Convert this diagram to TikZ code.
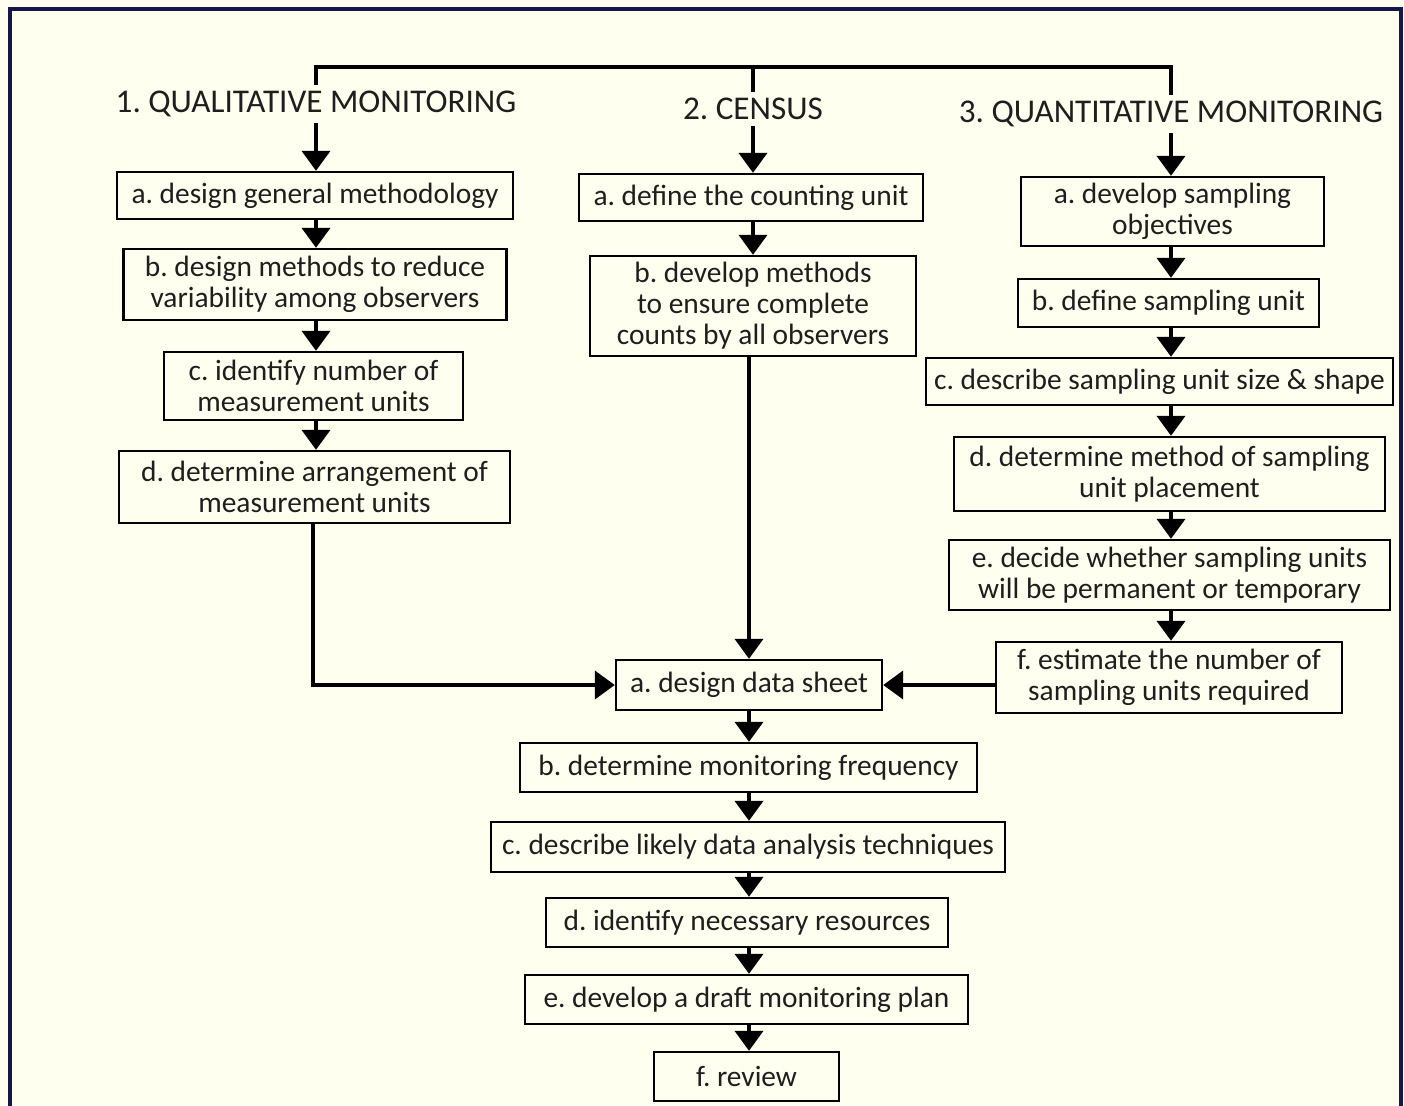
\documentclass[tikz,border=0pt]{standalone}
\usepackage{fontspec}
\setmainfont{Carlito}
\usetikzlibrary{arrows.meta}
\definecolor{paper}{HTML}{FFFFF0}
\definecolor{frameblue}{HTML}{16164A}
\definecolor{ink}{HTML}{1E1E1E}
\frenchspacing
\begin{document}
\begin{tikzpicture}[x=0.5pt,y=-0.5pt,
  box/.style={draw=black, line width=1.2pt, align=center, inner sep=0pt,
    text=ink, font=\fontsize{14.7}{15.5}\selectfont},
  head/.style={align=center, inner sep=3pt, text=ink,
    font=\fontsize{16.6}{17}\selectfont},
  arr/.style={line width=2pt, -{Triangle[width=14pt,length=10pt]}},
  link/.style={line width=2pt}]
% page and frame
\fill[paper] (0,0) rectangle (1404,1105);
\useasboundingbox (0,0) rectangle (1404,1105);
\begin{scope}
\clip (0,0) rectangle (1404,1105);
\draw[frameblue, line width=2pt] (9.5,9) rectangle (1400.5,1130);
\end{scope}

% column headings
\node[head] (t1) at (316,104) {1. QUALITATIVE MONITORING};
\node[head] (t2) at (753,109) {2. CENSUS};
\node[head] (t3) at (1171,114) {3. QUANTITATIVE MONITORING};
\coordinate (bar) at (0,67);
\draw[link] (t1.north) -- (t1.north |- bar) -- (t3.north |- bar) -- (t3.north);
\draw[link] (t2.north |- bar) -- (t2.north);

% 1. qualitative monitoring
\node[box, minimum width=198pt, minimum height=23.5pt] (q1) at (315,195.5) {a. design general methodology};
\node[box, minimum width=191.5pt, minimum height=35.5pt] (q2) at (315,284.5) {b. design methods to reduce\\variability among observers};
\node[box, minimum width=149.5pt, minimum height=34pt] (q3) at (313.5,386) {c. identify number of\\measurement units};
\node[box, minimum width=195.5pt, minimum height=36pt] (q4) at (314.5,487) {d. determine arrangement of\\measurement units};

% 2. census
\node[box, minimum width=172pt, minimum height=23.5pt] (c1) at (751,197.5) {a. define the counting unit};
\node[box, minimum width=163pt, minimum height=50pt] (c2) at (753,306) {b. develop methods\\to ensure complete\\counts by all observers};

% 3. quantitative monitoring
\node[box, minimum width=151.5pt, minimum height=34.5pt] (n1) at (1172.5,211.5) {a. develop sampling\\objectives};
\node[box, minimum width=150.5pt, minimum height=24pt] (n2) at (1168.5,303) {b. define sampling unit};
\node[box, minimum width=233.5pt, minimum height=23.5pt] (n3) at (1159.5,381.5) {c. describe sampling unit size \& shape};
\node[box, minimum width=215.5pt, minimum height=37pt] (n4) at (1169.5,474) {d. determine method of sampling\\unit placement};
\node[box, minimum width=220.5pt, minimum height=35pt] (n5) at (1169.5,575) {e. decide whether sampling units\\will be permanent or temporary};
\node[box, minimum width=173pt, minimum height=35.5pt] (n6) at (1169,677.5) {f. estimate the number of\\sampling units required};

% common steps
\node[box, minimum width=133pt, minimum height=25pt] (d1) at (749,685) {a. design data sheet};
\node[box, minimum width=228.5pt, minimum height=24.5pt] (d2) at (748.5,767.5) {b. determine monitoring frequency};
\node[box, minimum width=257pt, minimum height=25pt] (d3) at (748,847) {c. describe likely data analysis techniques};
\node[box, minimum width=201pt, minimum height=24.5pt] (d4) at (747,922.5) {d. identify necessary resources};
\node[box, minimum width=221.5pt, minimum height=24.5pt] (d5) at (746.5,999.5) {e. develop a draft monitoring plan};
\node[box, minimum width=92.5pt, minimum height=24.5pt] (d6) at (746.5,1076.5) {f. review};

% arrows, column 1
\draw[arr] (t1.south) -- (q1.north -| t1.south);
\draw[arr] (q1.south -| t1.south) -- (q2.north -| t1.south);
\draw[arr] (q2.south -| t1.south) -- (q3.north -| t1.south);
\draw[arr] (q3.south -| t1.south) -- (q4.north -| t1.south);
\draw[arr] (q4.south -| 313,0) |- (d1.west);

% arrows, column 2
\draw[arr] (t2.south) -- (c1.north -| t2.south);
\draw[arr] (c1.south -| t2.south) -- (c2.north -| t2.south);
\draw[arr] (c2.south -| d1.north) -- (d1.north);

% arrows, column 3
\draw[arr] (t3.south) -- (n1.north -| t3.south);
\draw[arr] (n1.south -| t3.south) -- (n2.north -| t3.south);
\draw[arr] (n2.south -| t3.south) -- (n3.north -| t3.south);
\draw[arr] (n3.south -| t3.south) -- (n4.north -| t3.south);
\draw[arr] (n4.south -| t3.south) -- (n5.north -| t3.south);
\draw[arr] (n5.south -| t3.south) -- (n6.north -| t3.south);
\draw[arr] (n6.west |- d1.east) -- (d1.east);

% arrows, common steps
\draw[arr] (d1.south) -- (d2.north -| d1.south);
\draw[arr] (d2.south -| d1.south) -- (d3.north -| d1.south);
\draw[arr] (d3.south -| d1.south) -- (d4.north -| d1.south);
\draw[arr] (d4.south -| d1.south) -- (d5.north -| d1.south);
\draw[arr] (d5.south -| d1.south) -- (d6.north -| d1.south);
\end{tikzpicture}
\end{document}
